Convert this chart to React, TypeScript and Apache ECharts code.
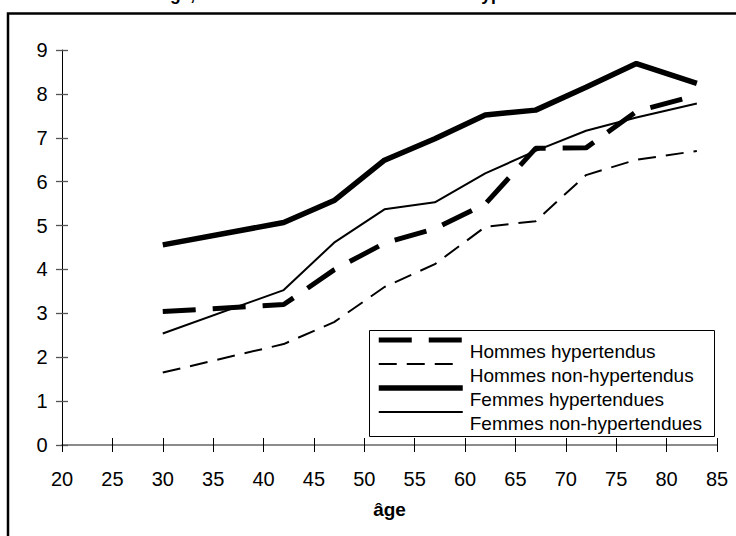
import React, { useEffect, useRef } from "react";
import * as echarts from "echarts";

// ---- data ----
const ages = [30, 42, 47, 52, 57, 62, 67, 72, 77, 83];
const hommesHypertendus = [3.04, 3.2, 3.99, 4.6, 4.93, 5.49, 6.76, 6.77, 7.6, 7.97];
const hommesNonHypertendus = [1.65, 2.3, 2.8, 3.6, 4.12, 4.97, 5.1, 6.15, 6.5, 6.7];
const femmesHypertendues = [4.56, 5.07, 5.57, 6.49, 6.98, 7.52, 7.63, 8.15, 8.69, 8.24];
const femmesNonHypertendues = [2.54, 3.53, 4.61, 5.37, 5.53, 6.19, 6.7, 7.16, 7.46, 7.78];
const seriesNames = [
  "Hommes hypertendus",
  "Hommes non-hypertendus",
  "Femmes hypertendues",
  "Femmes non-hypertendues",
];
const xMin = 20;
const xMax = 85;
const xStep = 5;
const yMin = 0;
const yMax = 9;
const yStep = 1;
const xAxisName = "âge";
const titleText =
  "Incidence selon l'âge, chez les hommes et les femmes hypertendus ou non";

const FONT = '"Liberation Sans", Arial, sans-serif';

export default function App() {
  const ref = useRef<HTMLDivElement>(null);

  useEffect(() => {
    if (!ref.current) return;
    const chart = echarts.init(ref.current, undefined, { renderer: "svg" });

    const values = [
      hommesHypertendus,
      hommesNonHypertendus,
      femmesHypertendues,
      femmesNonHypertendues,
    ];
    const lineStyles: any[] = [
      { color: "#000", width: 5, type: [33, 17] },
      { color: "#000", width: 2, type: [18, 10] },
      { color: "#000", width: 5.5, type: "solid" },
      { color: "#000", width: 2, type: "solid" },
    ];

    const series = seriesNames.map((name, i) => ({
      type: "line",
      name,
      data: ages.map((a, j) => [a, values[i][j]]),
      symbol: "none",
      showSymbol: false,
      silent: true,
      lineStyle: lineStyles[i],
      itemStyle: { color: "#000" },
      xAxisIndex: 0,
      yAxisIndex: 0,
    }));

    const tickLine = { color: "#000", width: 1 };

    chart.setOption({
      animation: false,
      textStyle: { fontFamily: FONT },
      grid: { left: 62, right: 19, top: 50, bottom: 91, containLabel: false },
      graphic: [
        {
          type: "rect",
          shape: { x: 8, y: 13.5, width: 760, height: 560 },
          style: { fill: "none", stroke: "#000", lineWidth: 2.5 },
          silent: true,
        },
        {
          type: "text",
          x: 15,
          y: -6,
          style: {
            text: titleText,
            font: `bold 17.5px ${FONT}`,
            fill: "#000",
            align: "left",
            verticalAlign: "middle",
          },
          silent: true,
        },
        {
          type: "rect",
          shape: { x: 369.5, y: 330.5, width: 345, height: 106 },
          style: { fill: "#fff", stroke: "#000", lineWidth: 1 },
          silent: true,
        },
      ],
      legend: {
        orient: "vertical",
        left: 376,
        top: 318,
        padding: 0,
        itemGap: -20,
        itemWidth: 84,
        itemHeight: 14,
        selectedMode: false,
        formatter: (name: string) => "\n" + name,
        textStyle: {
          fontSize: 19,
          fontFamily: FONT,
          color: "#000",
          lineHeight: 22,
          padding: [0, 0, 0, 2],
        },
        data: seriesNames.map((n, i) => ({
          name: n,
          itemStyle: { opacity: 0 },
          lineStyle: {
            color: "#000",
            width: lineStyles[i].width,
            type: lineStyles[i].type,
          },
        })),
      },
      xAxis: [
        {
          type: "value",
          min: xMin,
          max: xMax,
          interval: xStep,
          position: "bottom",
          axisLine: { show: true, onZero: false, lineStyle: { color: "#666", width: 1.5 } },
          axisTick: { show: true, inside: false, length: 7, lineStyle: tickLine },
          axisLabel: { fontSize: 20, color: "#000", margin: 24, fontFamily: FONT },
          splitLine: { show: false },
          name: xAxisName,
          nameLocation: "middle",
          nameGap: 55,
          nameTextStyle: { fontSize: 19, fontWeight: "bold", color: "#000", fontFamily: FONT },
        },
        {
          type: "value",
          min: xMin,
          max: xMax,
          interval: xStep,
          position: "bottom",
          axisLine: { show: false, onZero: false },
          axisTick: { show: true, inside: true, length: 7, lineStyle: tickLine },
          axisLabel: { show: false },
          splitLine: { show: false },
        },
      ],
      yAxis: [
        {
          type: "value",
          min: yMin,
          max: yMax,
          interval: yStep,
          position: "left",
          axisLine: { show: true, onZero: false, lineStyle: { color: "#000", width: 1 } },
          axisTick: { show: true, inside: false, length: 6, lineStyle: { color: "#555", width: 1.3 } },
          axisLabel: {
            fontSize: 20,
            color: "#000",
            margin: 14.5,
            fontFamily: FONT,
            padding: [5, 0, 0, 0],
          },
          splitLine: { show: false },
        },
        {
          type: "value",
          min: yMin,
          max: yMax,
          interval: yStep,
          position: "left",
          axisLine: { show: false, onZero: false },
          axisTick: { show: true, inside: true, length: 6, lineStyle: { color: "#555", width: 1.3 } },
          axisLabel: { show: false },
          splitLine: { show: false },
        },
      ],
      series,
    });

    return () => chart.dispose();
  }, []);

  return (
    <div
      ref={ref}
      style={{
        position: "absolute",
        left: 0,
        top: 0,
        width: 736,
        height: 536,
        overflow: "hidden",
        background: "#fff",
      }}
    />
  );
}
